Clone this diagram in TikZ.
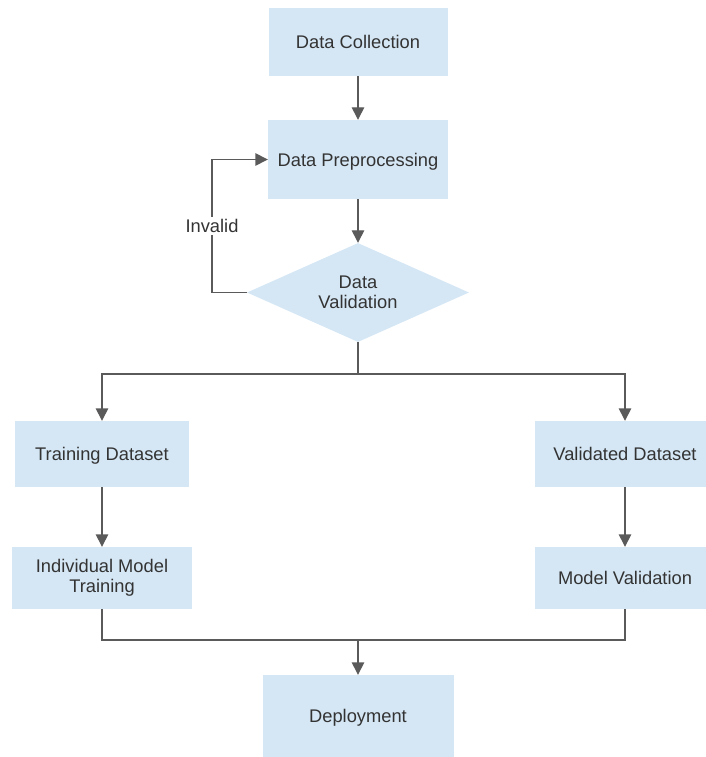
\documentclass[tikz,border=0pt]{standalone}
\usepackage{fontspec}
\setmainfont{Liberation Sans}
\usetikzlibrary{arrows.meta,shapes.geometric}
\definecolor{boxfill}{HTML}{D5E7F5}
\definecolor{linecol}{HTML}{5A5A5A}
\definecolor{txtcol}{HTML}{333333}
\tikzset{
  flowbox/.style={rectangle, fill=boxfill, draw=none, inner sep=0pt, align=center,
    text=txtcol, font=\fontsize{18.3}{20}\selectfont},
  onebox/.style={flowbox, text height=13pt, text depth=0pt},
  decbox/.style={diamond, fill=boxfill, draw=none, inner sep=0pt, aspect=2.24,
    minimum width=222pt, minimum height=99pt, align=center, text=txtcol,
    font=\fontsize{18.3}{20}\selectfont},
  conn/.style={draw=linecol, line width=1.4pt},
  arr/.style={conn, -{Triangle[width=12.5pt,length=12.5pt]}},
  lbl/.style={fill=white, inner sep=2pt, text=txtcol, font=\fontsize{18.3}{20}\selectfont}
}
\begin{document}
\begin{tikzpicture}[x=1pt,y=-1pt]
\useasboundingbox (0,0) rectangle (705,757);
\node[onebox, minimum width=179pt, minimum height=68pt] (dc) at (358,42) {Data Collection};
\node[onebox, minimum width=180pt, minimum height=79pt] (dp) at (358,159.5) {Data Preprocessing};
\node[decbox] (dv) at (358,292.5) {Data\\Validation};
\node[onebox, minimum width=174pt, minimum height=66pt] (td) at (102,454) {Training Dataset};
\node[onebox, minimum width=180pt, minimum height=66pt] (vd) at (625,454) {Validated Dataset};
\node[flowbox, minimum width=180pt, minimum height=62pt] (imt) at (102,578) {Individual Model\\Training};
\node[onebox, minimum width=180pt, minimum height=62pt] (mv) at (625,578) {Model Validation};
\node[onebox, minimum width=191pt, minimum height=82pt] (dep) at (358,716) {Deployment};

\coordinate (split) at (358,374);
\coordinate (join) at (358,640);
\coordinate (loopcorner) at (212,292.5);

\draw[conn] (dv.west) -- (loopcorner) -- (212,226) node[lbl, text height=13pt, text depth=0pt] (inv) {Invalid};
\draw[arr] (inv) |- (dp.west);
\draw[arr] (dc) -- (dp);
\draw[arr] (dp) -- (dv);
\draw[conn] (dv.south) -- (split);
\draw[arr] (split) -| (td.north);
\draw[arr] (split) -| (vd.north);
\draw[arr] (td) -- (imt);
\draw[arr] (vd) -- (mv);
\draw[conn] (imt.south) |- (join);
\draw[conn] (mv.south) |- (join);
\draw[arr] (join) -- (dep.north);
\end{tikzpicture}
\end{document}
